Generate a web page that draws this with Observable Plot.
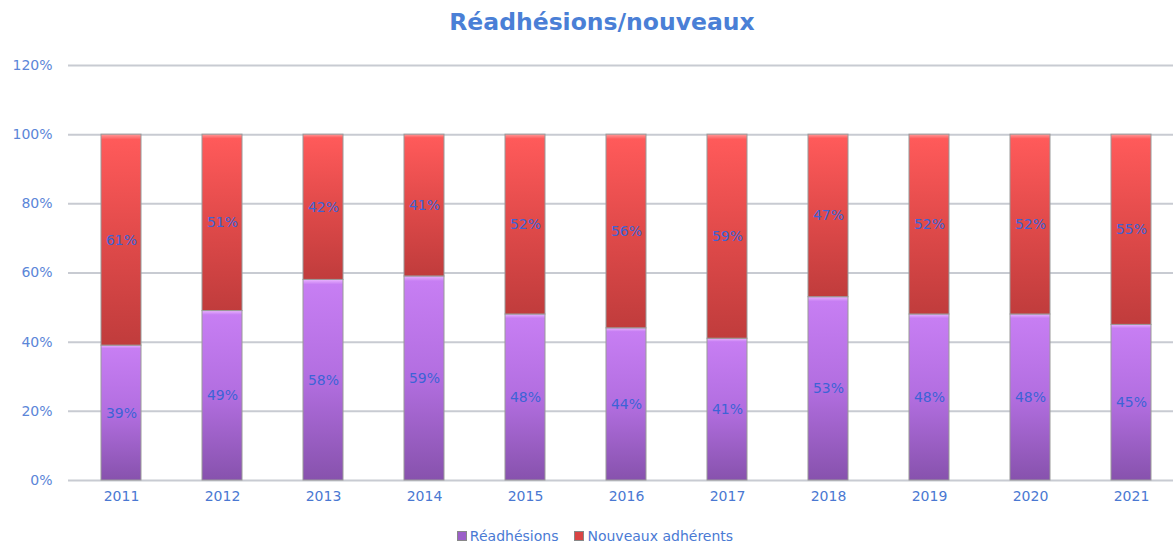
<!DOCTYPE html>
<html>
<head>
<meta charset="utf-8">
<script src="https://cdn.jsdelivr.net/npm/d3@7"></script>
<script src="https://cdn.jsdelivr.net/npm/@observablehq/plot@0.6"></script>
<style>
  html, body { margin: 0; padding: 0; background: #fff; width: 1173px; height: 545px; overflow: hidden; }
  #wrap { position: relative; width: 1173px; height: 545px; font-family: "DejaVu Sans", sans-serif; }
  #title { position: absolute; left: 0; width: 1204px; top: 8px; text-align: center; font-size: 23.5px; font-weight: bold; color: #4a7fd6; }
  #legend { position: absolute; left: 0; width: 1190px; top: 528px; text-align: center; font-size: 14px; color: #4a7ad4; }
  #legend span.item { margin: 0 8px; white-space: nowrap; }
  #legend span.sw { display: inline-block; width: 8px; height: 8px; margin-right: 3px; vertical-align: 0px; border: 1px solid #888; }
  #chart { position: absolute; left: 0; top: 0; }
</style>
</head>
<body>
<svg width="0" height="0" style="position:absolute">
  <defs>
    <linearGradient id="gP" x1="0" y1="0" x2="0" y2="1">
      <stop offset="0" stop-color="#eab4ff"/>
      <stop offset="0.025" stop-color="#c77ef3"/>
      <stop offset="0.5" stop-color="#b26ee0"/>
      <stop offset="1" stop-color="#8752ad"/>
    </linearGradient>
    <linearGradient id="gR" x1="0" y1="0" x2="0" y2="1">
      <stop offset="0" stop-color="#ff9a9a"/>
      <stop offset="0.025" stop-color="#ff5a5a"/>
      <stop offset="0.5" stop-color="#e04a4a"/>
      <stop offset="1" stop-color="#c03c3c"/>
    </linearGradient>
  </defs>
</svg>
<div id="wrap">
  <div id="chart"></div>
  <div id="title">Réadhésions/nouveaux</div>
  <div id="legend"></div>
</div>
<script>
const years = ["2011","2012","2013","2014","2015","2016","2017","2018","2019","2020","2021"];
const series = ["Réadhésions", "Nouveaux adhérents"];
const readhesions = [39, 49, 58, 59, 48, 44, 41, 53, 48, 48, 45];
const nouveaux = [61, 51, 42, 41, 52, 56, 59, 47, 52, 52, 55];
const yTicks = [0, 20, 40, 60, 80, 100, 120];
const fills = ["url(#gP)", "url(#gR)"];
const swatchColors = ["#9b5fc8", "#d94444"];

const rows = [];
years.forEach((y, i) => {
  rows.push({year: y, serie: series[0], value: readhesions[i]});
  rows.push({year: y, serie: series[1], value: nouveaux[i]});
});

const chart = Plot.plot({
  width: 1173,
  height: 545,
  marginTop: 65,
  marginBottom: 65,
  marginLeft: 68,
  marginRight: 0,
  style: {fontFamily: "DejaVu Sans, sans-serif", fontSize: "14px", background: "transparent"},
  x: {domain: years, range: [68, 1184], paddingInner: 0.6, paddingOuter: 0.3, align: 0.5, label: null},
  y: {domain: [0, 120], label: null},
  color: {domain: series, range: fills},
  marks: [
    Plot.ruleY(yTicks, {stroke: "#c8cbd2", strokeWidth: 2}),
    Plot.barY(rows, Plot.stackY({x: "year", y: "value", fill: "serie", stroke: "#9a9a9a", strokeWidth: 1})),
    Plot.text(rows, Plot.stackY({x: "year", y: "value", text: d => d.value + "%", fill: "#3d63d6", fontSize: 14})),
    Plot.axisY(yTicks, {tickSize: 0, tickPadding: 16, tickFormat: d => d + "%", color: "#5b86d8", fontSize: 14, label: null}),
    Plot.axisX({tickSize: 0, tickPadding: 11, color: "#4a78d2", fontSize: 14, label: null})
  ]
});
document.getElementById("chart").appendChild(chart);

const legend = document.getElementById("legend");
series.forEach((s, i) => {
  const item = document.createElement("span");
  item.className = "item";
  const sw = document.createElement("span");
  sw.className = "sw";
  sw.style.background = swatchColors[i];
  item.appendChild(sw);
  item.appendChild(document.createTextNode(s));
  legend.appendChild(item);
});
</script>
</body>
</html>
